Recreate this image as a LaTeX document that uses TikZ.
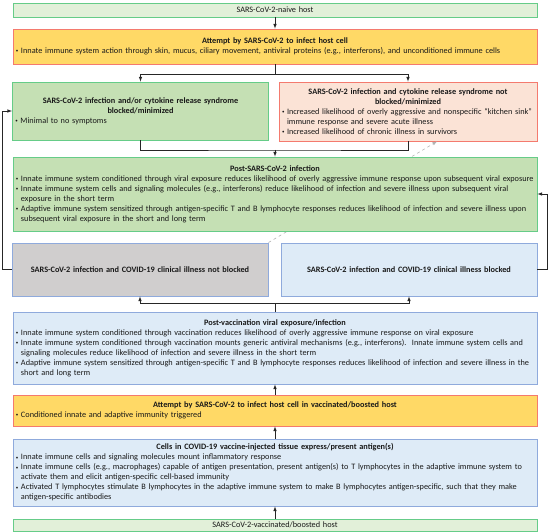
\documentclass[tikz,border=0pt]{standalone}
\usepackage{fontspec}
\setmainfont{Carlito}
\usetikzlibrary{arrows,calc}
\definecolor{PaleGreenClr}{HTML}{E2F0D9}
\definecolor{GreenClr}{HTML}{C5E0B4}
\definecolor{GreenLineClr}{HTML}{66CC88}
\definecolor{GoldClr}{HTML}{FFD966}
\definecolor{RedLineClr}{HTML}{F47A6E}
\definecolor{SalmonClr}{HTML}{FBE3D6}
\definecolor{GreyClr}{HTML}{D0CECE}
\definecolor{BlueClr}{HTML}{DEEBF7}
\definecolor{BlueLineClr}{HTML}{8FAADC}
\newcommand{\itm}[1]{\par\hangindent=5bp\hangafter=1\noindent\makebox[5bp][l]{\raisebox{0.2ex}{\fontsize{5}{5}\selectfont\textbullet}}#1\par}
\newcommand{\nl}{\hfil\break}
\newcommand{\ttl}[1]{{\centering\bfseries #1\par}}

\begin{document}
\begin{tikzpicture}[x=1bp,y=-1bp,
  box/.style={draw,line width=0.9pt,inner xsep=3bp,inner ysep=0pt,align=left,
    font=\fontsize{8.3}{10}\selectfont,text=black!90},
  wide/.style={box,minimum width=524bp,text width=518bp},
  half/.style={box,minimum width=256bp,text width=250bp},
  link/.style={line width=0.6pt,black!85,->,>=latex}]
\useasboundingbox (0,0) rectangle (550,532);

\node[wide,fill=PaleGreenClr,draw=GreenLineClr,minimum height=14bp,align=center] (naive) at (275,10) {SARS-CoV-2-naive host};
\node[wide,fill=GoldClr,draw=RedLineClr,minimum height=35bp] (attempt) at (275,46.5) {\ttl{Attempt by SARS-CoV-2 to infect host cell}\itm{Innate immune system action through skin, mucus, ciliary movement, antiviral proteins (e.g., interferons), and unconditioned immune cells}};
\node[half,fill=GreenClr,draw=GreenLineClr,minimum height=58bp] (block) at (140.5,111) {\ttl{SARS-CoV-2 infection and/or cytokine release syndrome\\blocked/minimized}\itm{Minimal to no symptoms}};
\node[half,fill=SalmonClr,draw=RedLineClr,minimum height=59bp,minimum width=258bp,text width=252bp] (notblk) at (408,111.5) {\ttl{SARS-CoV-2 infection and cytokine release syndrome not\\blocked/minimized}\itm{Increased likelihood of overly aggressive and nonspecific ``kitchen sink''\nl immune response and severe acute illness}\itm{Increased likelihood of chronic illness in survivors}};
\node[half,fill=GreyClr,draw=BlueLineClr,minimum height=53bp,align=center,font=\fontsize{8.3}{10}\selectfont\bfseries] (illness) at (140,269.5) {SARS-CoV-2 infection and COVID-19 clinical illness not blocked};

% dashed link, drawn under the post-infection box
\draw[line width=0.6pt,black!30,dashed,->,>=latex] (illness.north east) -- ([xshift=29bp]notblk.south);

\node[wide,fill=GreenClr,draw=GreenLineClr,minimum height=74bp] (postinf) at (275,194) {\ttl{Post-SARS-CoV-2 infection}\itm{Innate immune system conditioned through viral exposure reduces likelihood of overly aggressive immune response upon subsequent viral exposure}\itm{Innate immune system cells and signaling molecules (e.g., interferons) reduce likelihood of infection and severe illness upon subsequent viral\nl exposure in the short term}\itm{Adaptive immune system sensitized through antigen-specific T and B lymphocyte responses reduces likelihood of infection and severe illness upon\nl subsequent viral exposure in the short and long term}};
\node[half,fill=BlueClr,draw=BlueLineClr,minimum height=53bp,align=center,font=\fontsize{8.3}{10}\selectfont\bfseries] (noill) at (409,269.5) {SARS-CoV-2 infection and COVID-19 clinical illness blocked};
\node[wide,fill=BlueClr,draw=BlueLineClr,minimum height=72bp] (postvac) at (275,348) {\ttl{Post-vaccination viral exposure/infection}\itm{Innate immune system conditioned through vaccination reduces likelihood of overly aggressive immune response on viral exposure}\itm{Innate immune system conditioned through vaccination mounts generic antiviral mechanisms (e.g., interferons).\ \ Innate immune system cells and\nl signaling molecules reduce likelihood of infection and severe illness in the short term}\itm{Adaptive immune system sensitized through antigen-specific T and B lymphocyte responses reduces likelihood of infection and severe illness in the\nl short and long term}};
\node[wide,fill=GoldClr,draw=RedLineClr,minimum height=31bp] (attempt2) at (275,410.5) {\ttl{Attempt by SARS-CoV-2 to infect host cell in vaccinated/boosted host}\itm{Conditioned innate and adaptive immunity triggered}};
\node[wide,fill=BlueClr,draw=BlueLineClr,minimum height=67bp] (cells) at (275,472.5) {\ttl{Cells in COVID-19 vaccine-injected tissue express/present antigen(s)}\itm{Innate immune cells and signaling molecules mount inflammatory response}\itm{Innate immune cells (e.g., macrophages) capable of antigen presentation, present antigen(s) to T lymphocytes in the adaptive immune system to\nl activate them and elicit antigen-specific cell-based immunity}\itm{Activated T lymphocytes stimulate B lymphocytes in the adaptive immune system to make B lymphocytes antigen-specific, such that they make\nl antigen-specific antibodies}};
\node[wide,fill=PaleGreenClr,draw=GreenLineClr,minimum height=12bp,align=center] (vacc) at (275,525) {SARS-CoV-2-vaccinated/boosted host};

\coordinate (jn) at (275,150);

\draw[link] (naive) -- (attempt);
\draw[link] (attempt.south) -- ++(0,10) -| (block.north);
\draw[link] (attempt.south) -- ++(0,10) -| (notblk.north);
\draw[line width=0.6pt,black!85] (block.south) |- (jn) -| (notblk.south);
\draw[link] (jn) -- (postinf.north);
\draw[link] (illness.west) -- ++(-9,0) |- (block.west);
\draw[link] (noill.east) -- ++(10,0) |- (postinf.east);
\draw[link] (postvac.north) -- ++(0,-8) -| (illness.south);
\draw[link] (postvac.north) -- ++(0,-8) -| (noill.south);
\draw[link] (attempt2) -- (postvac);
\draw[link] (cells) -- (attempt2);
\draw[link] (vacc) -- (cells);

\end{tikzpicture}
\end{document}
